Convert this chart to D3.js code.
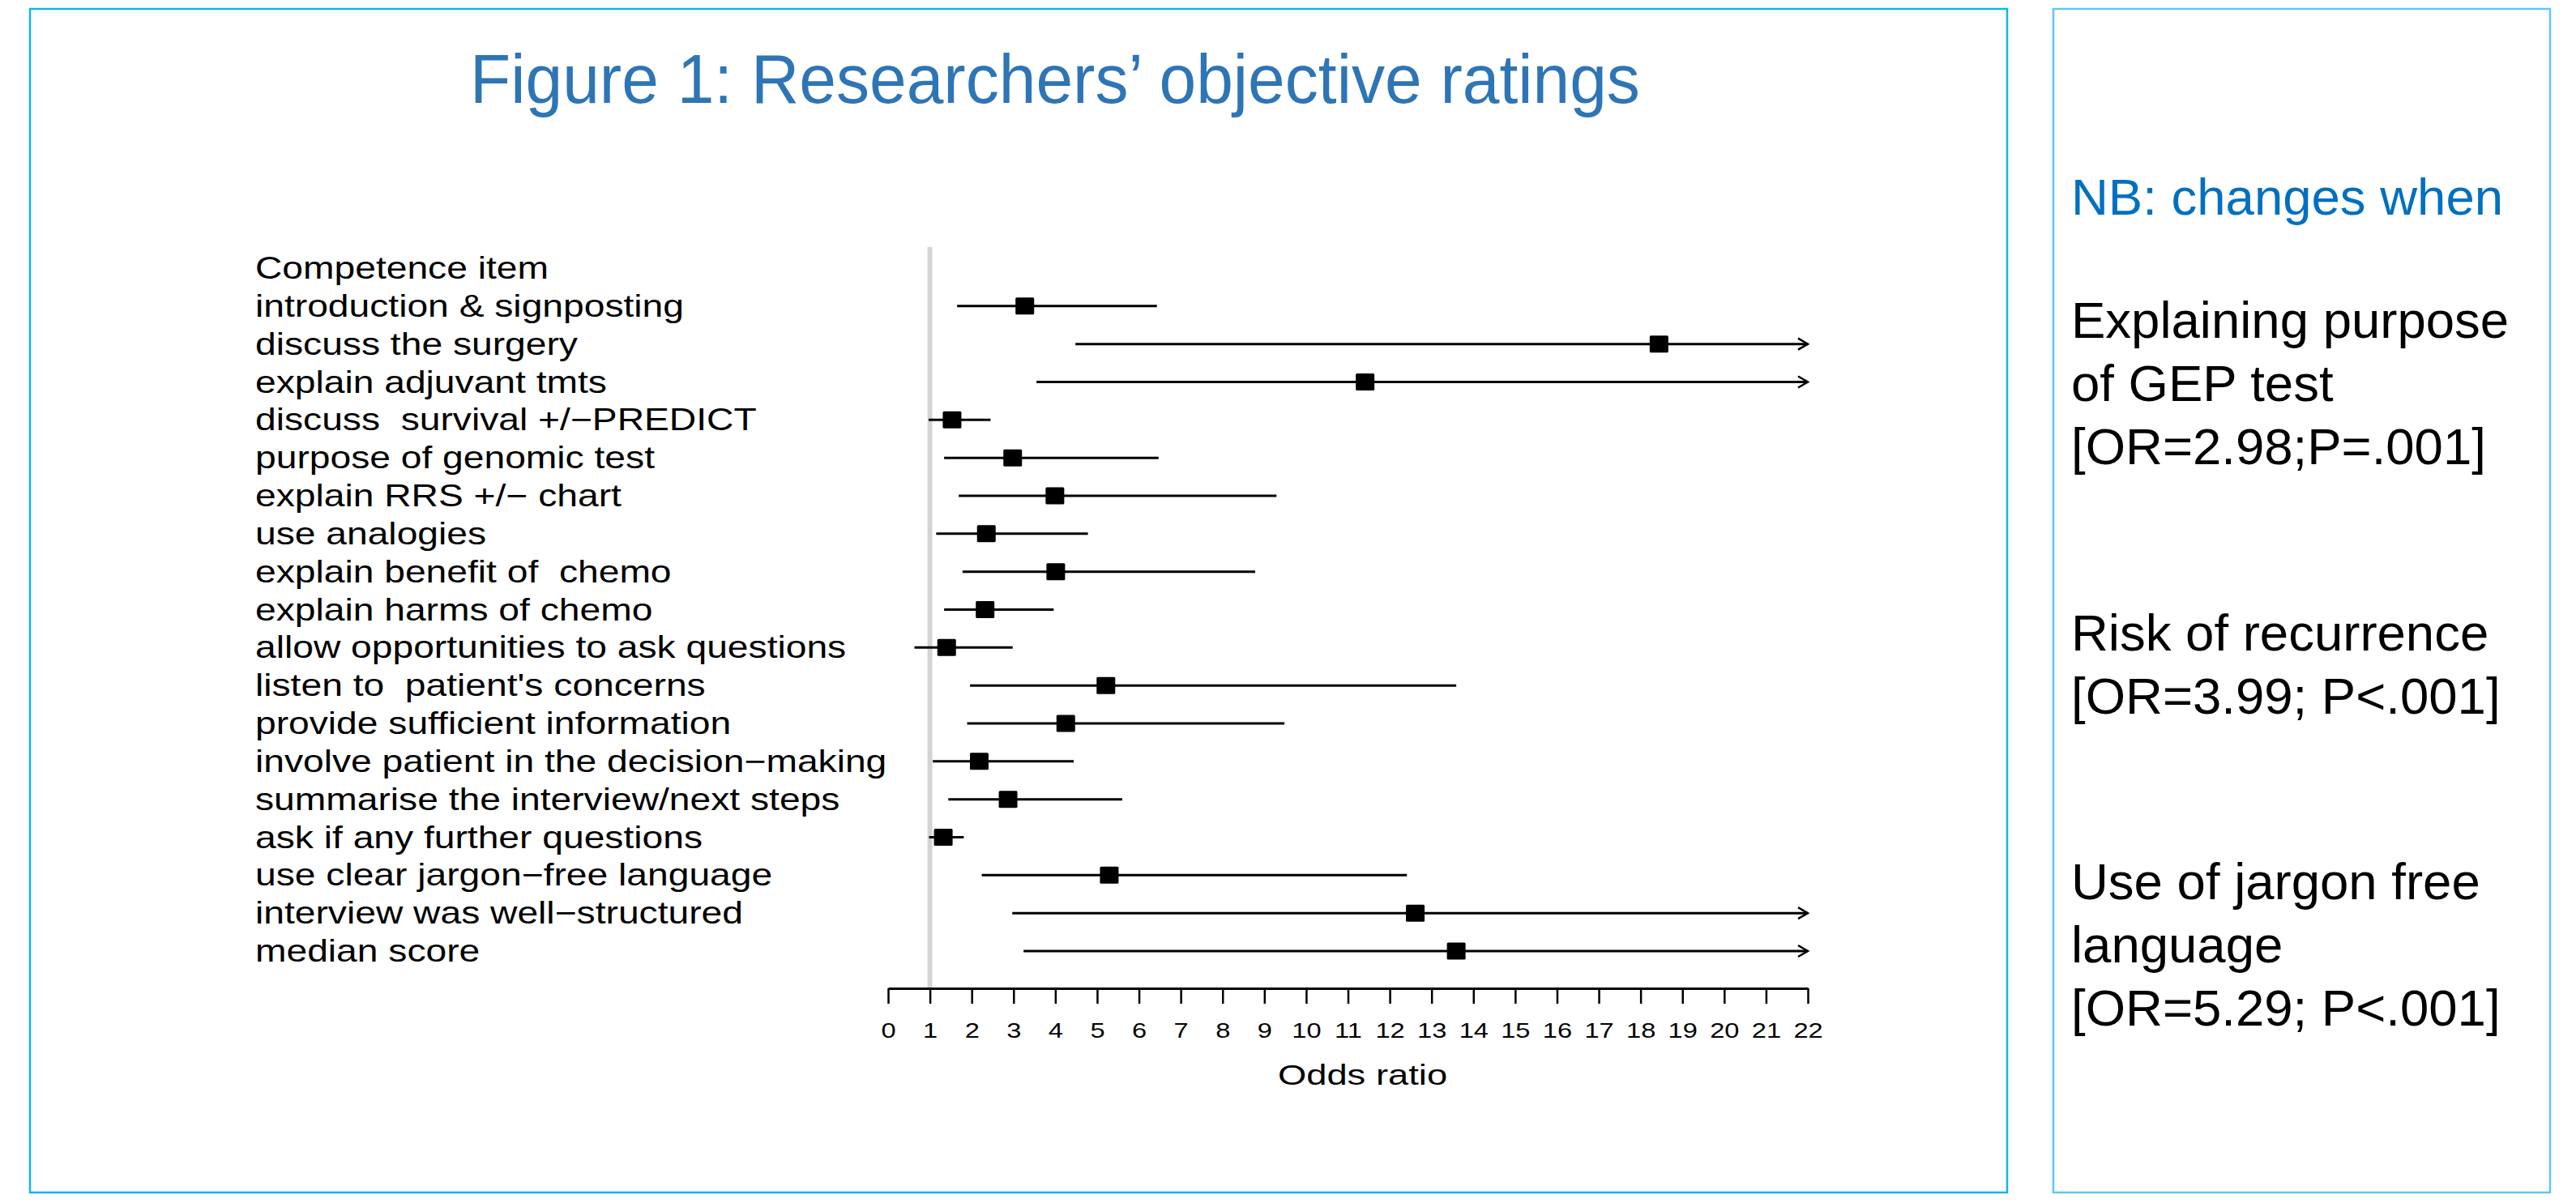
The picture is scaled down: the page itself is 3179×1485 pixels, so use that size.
<!DOCTYPE html>
<html>
<head>
<meta charset="utf-8">
<script src="https://cdn.jsdelivr.net/npm/d3@7"></script>
<style>
    body { margin: 0; background: #fff; }
    text { font-family: "Liberation Sans", Arial, sans-serif; white-space: pre; }
</style>
</head>
<body>
<div id="chart"></div>
<script>
var width = 3179,
    height = 1485;

// competence items (first entry is the column header, it has no estimate)
var header = "Competence item";
var items = [
    "introduction & signposting",
    "discuss the surgery",
    "explain adjuvant tmts",
    "discuss  survival +/\u2212PREDICT",
    "purpose of genomic test",
    "explain RRS +/\u2212 chart",
    "use analogies",
    "explain benefit of  chemo",
    "explain harms of chemo",
    "allow opportunities to ask questions",
    "listen to  patient's concerns",
    "provide sufficient information",
    "involve patient in the decision\u2212making",
    "summarise the interview/next steps",
    "ask if any further questions",
    "use clear jargon\u2212free language",
    "interview was well\u2212structured",
    "median score"
];

// odds ratios and 95% CI (Infinity = runs past the axis)
var oddsRatio = [3.27, 18.44, 11.41, 1.53, 2.98, 3.99, 2.35, 4.01, 2.32, 1.40, 5.21, 4.25, 2.18, 2.87, 1.32, 5.29, 12.61, 13.59];
var lowerCI   = [1.65, 4.48, 3.55, 0.97, 1.34, 1.69, 1.15, 1.78, 1.34, 0.63, 1.96, 1.89, 1.07, 1.44, 0.98, 2.24, 2.97, 3.24];
var upperCI   = [6.43, Infinity, Infinity, 2.45, 6.47, 9.29, 4.78, 8.78, 3.96, 2.98, 13.59, 9.48, 4.44, 5.60, 1.81, 12.41, Infinity, Infinity];

var xTicks = d3.range(0, 23);

var title = "Figure 1: Researchers\u2019 objective ratings";
var noteTitle = "NB: changes when";
var noteBlocks = [
    ["Explaining purpose", "of GEP test", "[OR=2.98;P=.001]"],
    ["Risk of recurrence", "[OR=3.99; P<.001]"],
    ["Use of jargon free", "language", "[OR=5.29; P<.001]"]
];

var rows = items.map(function(name, i) {
    return { item: name, or: oddsRatio[i], lo: lowerCI[i], hi: upperCI[i] };
});

var svg = d3.select("#chart").append("svg")
    .attr("width", width)
    .attr("height", height);

svg.append("rect").attr("width", width).attr("height", height).attr("fill", "#fff");

// slide panels
svg.append("rect")
    .attr("x", 37).attr("y", 11)
    .attr("width", 2440).attr("height", 1461)
    .attr("fill", "none")
    .attr("stroke", "#13b3ef")
    .attr("stroke-width", 2.5);

svg.append("rect")
    .attr("x", 2534).attr("y", 11)
    .attr("width", 613).attr("height", 1461)
    .attr("fill", "none")
    .attr("stroke", "#62c6f1")
    .attr("stroke-width", 2.5);

svg.append("text")
    .attr("transform", "translate(1302,127) scale(0.955,1)")
    .attr("text-anchor", "middle")
    .style("font-size", "86px")
    .attr("fill", "#2e75b6")
    .text(title);

// forest plot
var x = d3.scaleLinear()
    .domain([0, 22])
    .range([1096, 2231])
    .clamp(true);

var y = d3.scalePoint()
    .domain([header].concat(items))
    .range([331, 1174]);

var axisY = 1220;
var textStretch = 1.2;

var plot = svg.append("g").attr("class", "forest");

// reference line at OR = 1
plot.append("line")
    .attr("x1", x(1)).attr("x2", x(1))
    .attr("y1", 305).attr("y2", axisY)
    .attr("stroke", "#d4d4d4")
    .attr("stroke-width", 6);

plot.selectAll(".label")
    .data([header].concat(items))
    .enter().append("text")
    .attr("class", "label")
    .attr("xml:space", "preserve")
    .attr("transform", function(d) { return "translate(315," + (y(d) + 13) + ") scale(" + textStretch + ",1)"; })
    .style("font-size", "38.5px")
    .attr("fill", "#000")
    .text(function(d) { return d; });

var row = plot.selectAll(".row")
    .data(rows)
    .enter().append("g")
    .attr("class", "row");

row.append("line")
    .attr("x1", function(d) { return x(d.lo); })
    .attr("x2", function(d) { return x(d.hi); })
    .attr("y1", function(d) { return y(d.item); })
    .attr("y2", function(d) { return y(d.item); })
    .attr("stroke", "#000")
    .attr("stroke-width", 3);

// open arrow heads where the upper limit runs off the scale
row.filter(function(d) { return d.hi > x.domain()[1]; })
    .append("path")
    .attr("d", function(d) {
        var tx = x(d.hi), ty = y(d.item);
        return "M" + (tx - 12) + "," + (ty - 7) + "L" + tx + "," + ty + "L" + (tx - 12) + "," + (ty + 7);
    })
    .attr("fill", "none")
    .attr("stroke", "#000")
    .attr("stroke-width", 2.5);

row.append("rect")
    .attr("x", function(d) { return x(d.or) - 11.5; })
    .attr("y", function(d) { return y(d.item) - 10.5; })
    .attr("width", 23)
    .attr("height", 21)
    .attr("rx", 1.5)
    .attr("fill", "#000");

var xAxis = d3.axisBottom(x)
    .tickValues(xTicks)
    .tickFormat(d3.format("d"))
    .tickSize(19)
    .tickSizeOuter(0);

var gx = plot.append("g")
    .attr("class", "axis")
    .attr("transform", "translate(0," + axisY + ")")
    .call(xAxis);

gx.select(".domain").attr("stroke", "#000").attr("stroke-width", 3);
gx.selectAll(".tick line").attr("stroke", "#000").attr("stroke-width", 2.5);
gx.selectAll(".tick text")
    .attr("y", 61)
    .attr("dy", 0)
    .attr("transform", "scale(1.23,1)")
    .attr("fill", "#000")
    .style("font-size", "26.5px")
    .style("font-family", "Liberation Sans, Arial, sans-serif");

plot.append("text")
    .attr("transform", "translate(" + ((x(0) + x(22)) / 2 + 18) + ",1339) scale(1.26,1)")
    .attr("text-anchor", "middle")
    .style("font-size", "36px")
    .attr("fill", "#000")
    .text("Odds ratio");

// side note
var note = svg.append("g").attr("class", "note");

note.append("text")
    .attr("x", 2556).attr("y", 265)
    .style("font-size", "63.5px")
    .attr("fill", "#0070c0")
    .text(noteTitle);

var blockTop = [417, 803, 1110];
var lineGap = 78;

noteBlocks.forEach(function(block, b) {
    block.forEach(function(line, i) {
        note.append("text")
            .attr("x", 2556)
            .attr("y", blockTop[b] + i * lineGap)
            .style("font-size", "63.5px")
            .attr("fill", "#000")
            .text(line);
    });
});
</script>
</body>
</html>
